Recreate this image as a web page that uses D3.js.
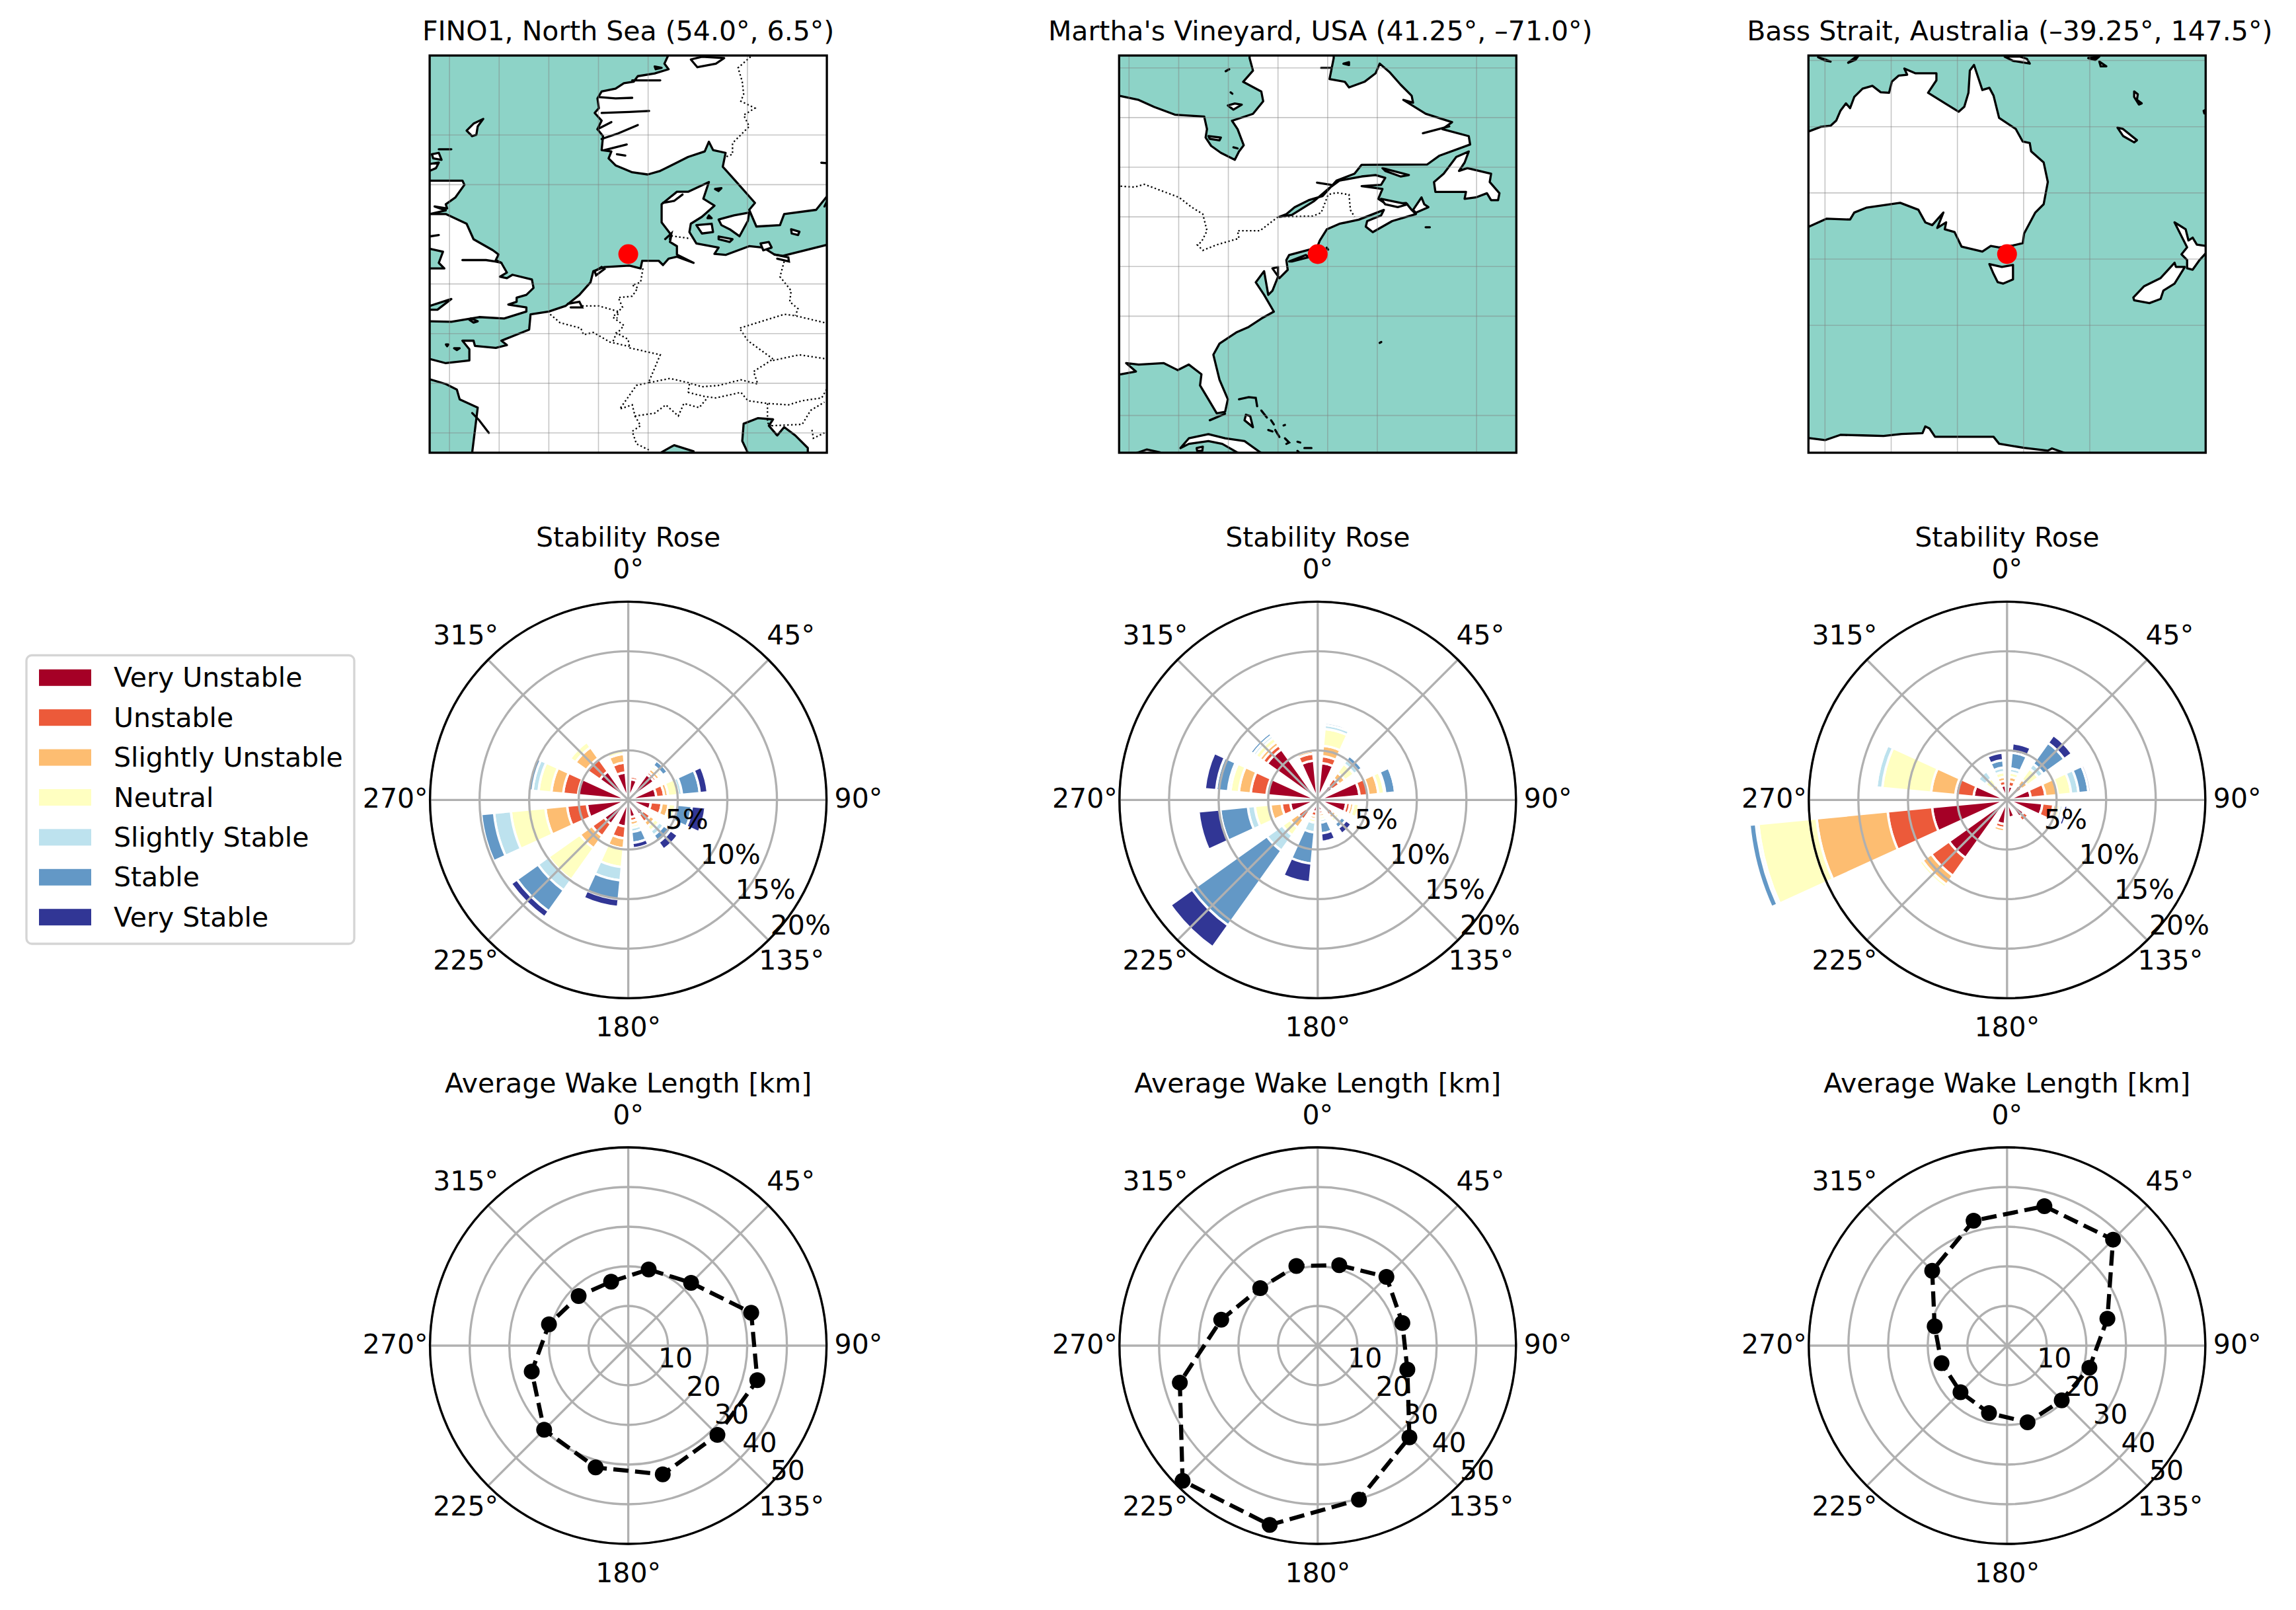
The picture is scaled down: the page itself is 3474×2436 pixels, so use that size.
<!DOCTYPE html>
<html>
<head>
<meta charset="utf-8">
<script src="https://cdn.jsdelivr.net/npm/d3@7"></script>
<style>
    html, body { margin: 0; padding: 0; background: #fff; }
    text { font-family: "DejaVu Sans", sans-serif; fill: #000; }
</style>
</head>
<body>
<div id="chart"></div>
<script>
// stability classes, same order as the stacking in the roses
const categories = ['Very Unstable', 'Unstable', 'Slightly Unstable', 'Neutral', 'Slightly Stable', 'Stable', 'Very Stable'];
const categoryColors = ['#a50026', '#ec5a3a', '#fdbd71', '#ffffc1', '#bde2ee', '#6398c6', '#313695'];

const sectorAngles = [15, 45, 75, 105, 135, 165, 195, 225, 255, 285, 315, 345];
const angleTicks = [0, 45, 90, 135, 180, 225, 270, 315];
const roseTicks = [5, 10, 15, 20];
const wakeTicks = [10, 20, 30, 40, 50];

const mapTitles = ['FINO1, North Sea (54.0°, 6.5°)', "Martha's Vineyard, USA (41.25°, –71.0°)", 'Bass Strait, Australia (–39.25°, 147.5°)'];

// one row per sector, one column per stability class (percent)
const roseFino = [
    [2.1, 0.3, 0.2, 0.05, 0, 0, 0],
    [3.2, 0.3, 0.4, 0.3, 0.1, 0.6, 0.05],
    [2.85, 0.8, 0.4, 1.0, 0.4, 1.8, 0.8],
    [2.3, 1.1, 0.7, 0.7, 0.1, 1.55, 1.37],
    [1.85, 0.9, 0.55, 0.55, 0.55, 0.85, 0.9],
    [1.75, 0.4, 0.4, 0.3, 0.4, 1.1, 0.55],
    [2.7, 1.2, 1.0, 1.9, 1.35, 1.9, 0.8],
    [3.0, 1.5, 1.5, 3.9, 1.3, 2.6, 0.75],
    [4.2, 2.0, 2.2, 3.5, 1.7, 1.3, 0],
    [5.1, 1.5, 1.2, 1.3, 0.6, 0.45, 0],
    [3.55, 1.65, 1.35, 0.65, 0, 0, 0],
    [2.8, 1.0, 0.87, 0.4, 0, 0, 0]
];
const roseVineyard = [
    [3.75, 0.7, 1.05, 1.7, 0.4, 0.25, 0.2],
    [1.8, 0.9, 0.7, 1.1, 0.5, 0.5, 0.03],
    [4.25, 0.9, 1.0, 0.6, 0.1, 1.0, 0.1],
    [2.9, 0.4, 0.35, 0.55, 0.2, 0.2, 0.1],
    [1.4, 0.5, 0.4, 0.4, 0.25, 0.55, 0.7],
    [1.1, 0.3, 0.3, 0.3, 0.3, 1.1, 0.85],
    [1.2, 0.45, 0.3, 0.35, 1.0, 3.15, 1.9],
    [1.45, 1.0, 1.0, 0.95, 1.9, 9.25, 2.7],
    [2.8, 0.87, 1.13, 1.58, 0.7, 2.8, 2.2],
    [5.2, 1.6, 1.2, 0.85, 0.25, 1.2, 1.15],
    [6.3, 0.5, 0.4, 0.5, 0.3, 0.35, 0.2],
    [4.0, 0.7, 0.3, 0.2, 0.15, 0.1, 0]
];
const roseBass = [
    [1.4, 0.5, 0.45, 0.45, 0.4, 1.6, 0.95],
    [1.2, 0.65, 0.7, 1.35, 0.6, 2.6, 0.95],
    [2.4, 1.5, 1.25, 1.35, 0.75, 1.0, 0.25],
    [3.6, 1.1, 0.3, 0.35, 0.3, 0.15, 0.35],
    [2.1, 0.55, 0.1, 0, 0, 0, 0],
    [1.8, 0.2, 0.2, 0, 0, 0, 0],
    [2.45, 0.4, 0.35, 0, 0, 0, 0],
    [7.2, 2.2, 1.1, 0.35, 0, 0, 0],
    [7.6, 4.5, 7.2, 5.9, 0.25, 0.65, 0],
    [3.4, 1.85, 2.45, 4.95, 0.6, 0.2, 0.03],
    [0.9, 0.5, 0.5, 0.8, 0.9, 0.2, 0.15],
    [1.5, 0.45, 0.4, 0.5, 0.45, 0.75, 0.75]
];

// average wake length per sector (km)
const wakeFino = [19.9, 22.4, 32.1, 33.7, 31.8, 33.6, 31.8, 30, 25.2, 20.7, 17.7, 16.7];
const wakeVineyard = [21, 24.5, 22.1, 23.4, 32.7, 40.2, 46.8, 48.2, 36, 25.2, 20.5, 20.8];
const wakeBass = [36.4, 37.8, 26.2, 21.5, 19.5, 20, 17.6, 16.6, 17.1, 18.9, 26.7, 32.6];

// site positions and the graticule the maps show
const sites = [[6.5, 54.0], [-71.0, 41.25], [147.5, -39.25]];
const mapHalfSpans = [10, 20, 30];
const finoLons = [-2.5, 0, 2.5, 5, 7.5, 12.5];
const finoLats = [45, 47.5, 50, 52.5, 57.5, 60];
const vineyardLons = [-90, -85, -80, -75, -70, -65, -55];
const vineyardLats = [25, 35, 40, 45, 50, 55, 60];
const bassLons = [120, 130, 140, 150, 160];
const bassLats = [-10, -20, -30, -40, -50];

// coastlines and borders as [lon, lat]
const finoLand = [
    // Norway and Sweden
    [[8.74,64.5],[8.32,63.59],[8.53,63.31],[7.83,63.1],[6.98,62.96],[6.77,62.68],[6.28,62.61],[5.86,62.33],[5.16,62.19],[4.95,61.84],[5.02,61.35],[4.81,61.11],[5.16,60.72],[4.95,60.29],[5.23,59.94],[5.16,59.24],[5.65,59.17],[5.51,58.82],[5.86,58.47],[6.7,58.12],[7.48,58.01],[8.11,58.19],[8.95,58.61],[9.51,58.89],[10.35,59.17],[10.56,59.66],[10.77,59.24],[11.4,59.1],[11.26,58.4],[11.89,57.7],[12.88,56.58],[12.59,56.23],[12.95,55.39],[14.14,55.46],[14.35,56.02],[15.96,56.23],[16.52,56.93],[17.5,56.93],[17.5,64.5]],
    // Britain
    [[-4,57.7],[-1.85,57.7],[-1.75,57.49],[-2.2,56.86],[-2.69,56.51],[-2.62,56.3],[-3.25,56.4],[-2.69,56.2],[-3.5,56.02],[-2.69,56.02],[-1.64,55.53],[-1.29,54.75],[-0.31,54.19],[-0.03,53.98],[-0.17,53.7],[0.11,53.56],[0.39,53.07],[0.04,52.86],[0.39,52.79],[0.67,52.96],[1.65,52.72],[1.73,52.3],[1.37,51.95],[0.88,51.81],[0.88,51.6],[0.46,51.46],[1.37,51.32],[1.37,51.11],[0.25,50.76],[-1.01,50.83],[-2.41,50.59],[-3.5,50.62],[-4,50.62],[-4,51.2],[-3.11,51.2],[-2.41,51.74],[-3.5,51.39],[-4,51.39],[-4,53.28],[-2.76,53.28],[-3.04,53.56],[-2.83,54.12],[-3.46,54.26],[-4,54.26]],
    [[-4,58.19],[-3.5,58.19],[-3.18,58.33],[-3.04,58.61],[-3.5,58.54],[-4,58.54]],
    // mainland Europe
    [[-1.85,49.64],[-1.29,49.64],[-1.22,49.38],[-0.17,49.28],[0.39,49.42],[0.11,49.64],[1.51,50.2],[1.58,50.97],[2.5,51.11],[3.34,51.39],[4.04,51.95],[4.6,52.58],[4.74,53.14],[5.3,53.35],[6.56,53.42],[7.12,53.28],[7.2,53.66],[8.04,53.66],[8.25,53.45],[8.53,53.77],[8.95,53.87],[9.79,53.56],[8.95,53.98],[8.95,54.4],[8.6,54.61],[8.67,54.96],[8.18,55.6],[8.18,56.51],[8.95,57.14],[9.51,57.14],[10.56,57.63],[10.28,56.79],[10.84,56.44],[10.21,55.88],[9.65,55.53],[9.58,55.11],[9.93,54.54],[11.05,54.33],[10.84,54.01],[11.4,53.96],[12.59,54.4],[13.3,54.33],[13.86,53.98],[14.28,53.91],[16.52,54.47],[17.5,54.47],[17.5,43.5],[15.54,43.5],[15.54,44.24],[14.91,44.87],[14.35,45.29],[14,44.87],[13.58,45.36],[13.79,45.68],[13.02,45.74],[12.31,45.46],[12.24,44.59],[12.52,44.0],[12.52,43.5],[9.79,43.5],[9.79,44.07],[8.81,44.38],[8.18,44.03],[8.18,43.5],[-1.36,43.5],[-1.36,44],[-1.08,46.27],[-1.99,46.69],[-2.13,47.18],[-2.69,47.46],[-3.5,47.7],[-4,47.7],[-4,48.72],[-3.5,48.72],[-2.69,48.51],[-1.5,48.65],[-1.5,49.21]],
    // islands
    [[11.05,55.74],[11.82,55.95],[12.59,56.09],[12.52,55.67],[12.1,54.9],[11.61,55.25],[11.19,55.46]],
    [[9.93,55.46],[10.7,55.53],[10.77,55.11],[10.21,55.04]],
    [[11.05,54.89],[11.75,54.75],[11.61,54.61],[11.05,54.75]],
    [[14.7,55.25],[15.12,55.13],[15.05,54.96],[14.73,55.04]],
    [[13.16,54.54],[13.58,54.61],[13.72,54.33],[13.3,54.19]],
    [[10.87,57.28],[11.19,57.32],[11.05,57.18]],
    [[10.56,55.95],[10.7,55.81],[10.49,55.81]],
    [[-1.64,60.22],[-1.29,60.57],[-0.8,60.81],[-1.08,60.43],[-1.15,60.01],[-1.36,59.94]],
    [[-3.39,59.03],[-3.04,59.1],[-2.9,58.75],[-3.32,58.82]],
    [[-1.43,50.76],[-1.08,50.62],[-1.29,50.55],[-1.5,50.69]],
    [[-2.68,49.45],[-2.56,49.45],[-2.62,49.36]],
    [[-2.27,49.26],[-1.99,49.26],[-2.13,49.17]],
    [[9.65,63.8],[10.21,63.94],[11.33,63.87],[10.91,63.59],[9.98,63.41]],
    [[7.83,63.45],[8.18,63.38],[7.88,63.31]]
];
const finoLines = [
    [[5.02,61.91],[5.86,61.84],[6.7,61.87]],
    [[5.16,61.11],[6.56,61.16],[7.55,61.21]],
    [[5.16,59.8],[6.0,60.08],[6.98,60.5]],
    [[5.3,59.24],[6.42,59.52]],
    [[4.95,60.29],[5.65,60.65]],
    [[5.93,59.03],[6.35,58.96]],
    [[6.7,62.75],[8.11,62.75]],
    [[-1.85,53.7],[-0.66,53.7],[-0.2,53.63],[0.11,53.56]],
    [[-3.5,54.89],[-3.04,54.96]],
    [[-3.04,59.28],[-2.41,59.28]],
    [[-1.36,46.0],[-1.01,45.64],[-0.52,45.0]],
    [[8.25,56.58],[8.81,56.68],[9.23,57.0]],
    [[4.81,53.14],[5.16,53.35],[5.3,53.25],[4.88,52.93],[4.81,53.14]],
    [[3.46,51.5],[4.04,51.6],[4.18,51.32],[3.6,51.32]],
    [[13.86,53.98],[14.56,53.84],[14.59,53.63],[14,53.77]],
    [[8.36,54.76],[8.67,55.04],[8.6,54.76]],
    [[16.38,56.4],[16.52,56.7]],
    [[16.22,58.6],[16.52,58.58]]
];
const finoBorders = [
    [[12.66,63.94],[12.03,63.38],[12.24,62.68],[12.31,62.05],[12.17,61.7],[12.88,61.35],[12.31,61.0],[12.59,60.43],[11.75,59.59],[11.75,59.03],[11.4,58.89]],
    [[8.67,54.92],[9.65,54.78]],
    [[7.24,53.28],[7.12,52.58],[6.7,52.44],[6.98,52.3],[6.7,51.88],[6,51.81],[6.21,51.32],[5.72,50.83],[6.28,50.41],[5.86,49.92],[5.72,49.57]],
    [[4.18,51.39],[5.02,51.39],[6,51.11],[5.93,50.76]],
    [[2.57,50.97],[3.06,50.55],[4.11,50.27],[4.25,49.94],[4.74,50.06],[5.58,49.57],[6.56,49.35]],
    [[5.86,50.06],[6.49,49.71],[6.56,49.35]],
    [[6.56,49.28],[8.11,48.93],[7.55,47.6]],
    [[7.55,47.53],[6.91,47.39],[6.07,46.2],[6.7,46.41],[6.84,45.85],[7.83,45.99],[8.39,46.41],[9.02,45.85],[9.3,46.48],[10.07,46.27],[10.42,46.69]],
    [[6.84,45.85],[7.12,45.36],[6.7,45.08],[6.91,44.45],[7.62,44.1]],
    [[7.55,47.53],[8.6,47.74],[9.51,47.53],[10.21,47.32],[11.05,47.39],[12.17,47.67],[13.02,47.46],[12.81,48.09],[13.58,48.58],[13.79,48.72]],
    [[13.79,48.72],[12.52,49.64],[12.1,50.27],[14.35,50.97],[14.91,50.9],[16.38,50.55]],
    [[14.35,53.63],[14.14,52.86],[14.7,52.16],[14.63,51.6],[15.05,51.25],[14.91,50.9]],
    [[9.51,47.04],[10.35,46.83],[10.91,46.76],[12.17,47.04],[12.52,46.62],[13.51,46.48],[14.56,46.41],[15.26,46.62],[16.24,46.76],[16.52,47.25]],
    [[9.58,47.46],[9.51,47.04]],
    [[13.51,46.48],[13.51,45.5],[13.72,45.36]],
    [[13.72,45.36],[15.26,45.43],[15.68,46.13],[16.38,46.55]],
    [[13.79,48.65],[15.12,48.93],[16.52,48.72]],
    [[15.75,45.15],[15.82,44.73],[16.38,45.0]]
];

const vineyardLand = [
    // North America
    [[-92,57.2],[-91,57.2],[-89.03,56.78],[-87.48,56.08],[-85.38,55.29],[-82.43,55.1],[-82.15,53.84],[-82.29,52.99],[-81.73,52.15],[-80.75,51.45],[-79.35,50.75],[-78.93,51.59],[-78.45,52.21],[-79.07,53.84],[-79.63,54.68],[-77.52,55.38],[-76.49,56.64],[-76.68,57.62],[-78.51,58.6],[-77.52,59.73],[-77.86,60.99],[-77.86,62],[-69.39,62],[-69.39,60.99],[-69.81,58.88],[-68.27,58.6],[-67.85,58.04],[-66.3,58.6],[-65.18,59.45],[-64.76,60.43],[-63.78,59.59],[-62.66,58.32],[-61.54,57.2],[-61.4,56.5],[-62.38,56.78],[-60.13,55.38],[-57.47,54.54],[-58.45,53.84],[-55.79,53.13],[-55.65,52.29],[-58.73,51.17],[-59.99,50.27],[-66.58,50.25],[-67.29,49.35],[-69.11,48.65],[-70.51,47.1],[-71.91,46.68],[-73.32,45.98],[-74.16,45.28],[-74.86,45],[-73.6,45.2],[-71.35,46.6],[-69.95,47.81],[-68.83,48.65],[-66.58,49.07],[-65.18,49.21],[-64.2,48.93],[-64.62,48.23],[-66.58,48.09],[-64.48,47.81],[-64.9,46.82],[-64.06,46.26],[-62.1,46.4],[-61.54,45.7],[-61.11,45.28],[-63.5,44.58],[-65.46,43.46],[-66.16,44.02],[-66.02,44.58],[-64.62,45.14],[-64.34,45.7],[-66.87,44.72],[-68.83,44.3],[-70.09,43.74],[-70.79,42.62],[-71.07,41.91],[-73.88,41.16],[-74.16,40.65],[-74.02,39.67],[-74.86,38.83],[-75.56,39.81],[-75,39.95],[-75,38.97],[-75.56,37.57],[-75.98,37.15],[-76.4,39.53],[-77.24,38.41],[-76.4,37.15],[-75.42,35.46],[-76.68,34.76],[-77.95,33.92],[-79.21,33.36],[-80.89,32.24],[-81.51,31.12],[-80.89,28.59],[-80.05,26.63],[-80.33,25.36],[-81.17,25.22],[-82.01,26.63],[-82.85,28.03],[-82.71,29.15],[-83.98,30.13],[-85.1,29.57],[-86.5,30.27],[-89.03,30.13],[-90.29,30.27],[-89.31,29.43],[-90.85,29.15],[-92,29.15]],
    // islands
    [[-73.88,40.51],[-72.19,41.16],[-71.91,40.94],[-73.6,40.51]],
    [[-59.29,48.51],[-58.31,49.35],[-57.05,51.03],[-55.79,51.59],[-56.21,50.47],[-56.77,49.63],[-55.93,49.91],[-53.54,49.35],[-53.68,48.51],[-52.7,47.38],[-52.84,46.68],[-53.54,46.68],[-53.96,47.38],[-55.08,46.96],[-56.21,46.82],[-56.07,47.52],[-59.15,47.52]],
    [[-64.48,49.91],[-61.82,49.21],[-62.66,49.07],[-64.2,49.63]],
    [[-64.62,46.82],[-61.96,46.26],[-62.94,45.98],[-64.2,46.26]],
    [[-61.4,45.7],[-60.55,46.96],[-60.27,46.26],[-59.85,45.98],[-61.11,45.42]],
    [[-82.01,53.13],[-80.75,52.99],[-80.89,52.71],[-81.87,52.85]],
    [[-68.41,60.43],[-67.85,60.57],[-67.85,60.29]],
    [[-84.82,21.72],[-83.98,22.7],[-82.01,23.12],[-80.33,22.7],[-78.37,22.42],[-76.68,21.21],[-78.65,21.02],[-80.61,22.14],[-82.01,22.42],[-83.98,22.14]],
    [[-83.19,21.72],[-82.57,21.86],[-82.62,21.44],[-83.14,21.44]],
    [[-89.87,21],[-88.2,21.58],[-86.9,21.3],[-86.9,21]],
    [[-78.23,25.08],[-77.8,24.94],[-77.52,23.82],[-78.37,24.52]],
    [[-80.05,56.22],[-79.35,56.42],[-78.65,56.3],[-79.49,55.8]]
];
const vineyardLines = [
    [[-60.41,53.42],[-57.75,54.12]],
    [[-71.07,48.45],[-69.67,48.23]],
    [[-79.77,57.54],[-79.6,57.4]],
    [[-80.27,59.67],[-79.91,59.87]],
    [[-79.49,52.01],[-79.07,51.9]],
    [[-70.65,60.01],[-69.67,60.01]],
    [[-81.87,24.52],[-80.33,25.17]],
    [[-78.93,26.63],[-77.95,26.85],[-77.24,26.77],[-77.1,25.93]],
    [[-76.68,25.5],[-76.12,24.8]],
    [[-75.7,24.52],[-75.42,24.1]],
    [[-75.98,23.54],[-75.56,23.4]],
    [[-75.28,23.54],[-74.86,22.84]],
    [[-74.3,22.7],[-73.88,22.28],[-74.16,22.14]],
    [[-73.04,22.36],[-72.76,22.28]],
    [[-72.34,21.72],[-71.63,21.72]],
    [[-74.44,24],[-74.3,24.05]],
    [[-73.04,21.44],[-72.9,21.3]],
    [[-60.13,43.96],[-59.71,43.96]],
    [[-64.76,32.32],[-64.6,32.4]],
    [[-70.1,41.9],[-69.95,41.7]]
];
const vineyardBorders = [
    [[-90.85,48.09],[-89.45,48],[-88.46,48.28],[-84.96,46.96],[-83.7,45.98],[-82.57,45.28],[-82.15,43.6],[-82.71,42.48],[-83.13,42.19],[-82.57,41.63],[-81.17,42.19],[-78.93,42.84],[-79.07,43.6],[-76.82,43.6],[-75,45],[-71.49,45.08],[-70.65,45.42],[-69.95,47.24],[-69.11,47.44],[-67.85,47.24],[-67.71,45.7],[-67.29,45]]
];

const bassLand = [
    // Australia
    [[117,-20.69],[117.61,-20.69],[119.37,-20.02],[120.85,-19.85],[121.69,-19.09],[122.32,-17.62],[123.16,-16.48],[123.79,-17.2],[124.42,-15.51],[125.68,-14.25],[127.16,-13.83],[128.42,-14.8],[129.68,-14.88],[130.1,-13.2],[131.15,-12.28],[132.41,-12.15],[131.99,-11.22],[133.68,-11.94],[136.83,-11.94],[136.83,-12.99],[135.57,-14.88],[138.3,-16.57],[140.2,-17.74],[141.04,-16.99],[141.67,-14.88],[141.88,-11.52],[142.51,-10.68],[143.77,-14.46],[144.83,-14.13],[145.46,-15.3],[146.3,-18.67],[148.82,-20.35],[149.87,-22.25],[150.93,-22.46],[151.14,-23.72],[153.03,-25.4],[153.66,-28.35],[153.03,-31.71],[151.77,-32.97],[150.08,-36.13],[149.87,-37.6],[148.4,-37.94],[146.3,-38.23],[145.04,-38.02],[143.77,-38.86],[140.62,-38.11],[139.57,-35.92],[138.09,-35.5],[138.3,-34.45],[136.96,-35.29],[137.88,-32.97],[136.2,-34.87],[135.15,-34.45],[134.1,-32.55],[131.36,-31.5],[126.31,-32.22],[124.42,-32.97],[123.79,-34.03],[120.21,-33.9],[117.61,-35.08],[117,-35.08]],
    // Tasmania
    [[144.83,-40.76],[146.72,-41.18],[148.4,-40.88],[148.4,-43.07],[146.93,-43.7],[146.09,-43.49],[145.46,-42.23]],
    // New Zealand
    [[166.58,-45.81],[168.17,-44.12],[170.7,-42.86],[172.8,-40.55],[173.01,-41.18],[174.36,-41.18],[172.8,-43.7],[171.12,-44.75],[170.7,-46.02],[169.01,-46.65],[166.7,-46.23]],
    [[172.8,-34.45],[174.48,-35.5],[174.9,-37.18],[175.54,-36.76],[176.17,-37.81],[177.56,-38.02],[178.5,-38.02],[178.5,-39.07],[177.56,-39.07],[176.59,-40.13],[175.54,-41.6],[174.7,-41.39],[174.7,-40.13],[173.85,-39.28],[174.7,-38.23]],
    // Pacific and Indonesia
    [[164.18,-20.14],[165.02,-20.35],[167.12,-22.04],[166.7,-22.37],[165.02,-21.4]],
    [[166.7,-14.67],[167.25,-15.1],[167.12,-15.94],[167.84,-16.48],[167.42,-16.65],[166.7,-15.51]],
    [[177.2,-17.6],[177.6,-17.4],[177.6,-18],[177.3,-18]],
    [[118.95,-9.5],[120,-9.84],[120.85,-10.17],[120,-10]],
    [[123.5,-10.34],[125.26,-9],[124.6,-9.9]],
    [[147.14,-9.42],[148.4,-10.05],[150.93,-10.47],[150.5,-9.75],[149.45,-9.42]],
    [[159.76,-9.63],[160.81,-9.92],[161.44,-9.4]],
    [[161.44,-10.17],[162.5,-10.89],[161.65,-10.89]],
    // Antarctica
    [[117,-67.05],[117.61,-67.05],[120,-67.35],[122.32,-66.55],[125.68,-66.63],[128.84,-66.71],[131.57,-66.42],[134.73,-66.29],[135.15,-65.28],[135.78,-65.58],[136.62,-66.84],[145.46,-66.84],[146.3,-67.89],[150.08,-68.52],[153.66,-68.94],[154.29,-68.6],[156.18,-69.28],[156.18,-70],[117,-70]]
];
const bassLines = [];
const bassBorders = [];

const siteMaps = [
    { land: finoLand, lines: finoLines, borders: finoBorders, lons: finoLons, lats: finoLats },
    { land: vineyardLand, lines: vineyardLines, borders: vineyardBorders, lons: vineyardLons, lats: vineyardLats },
    { land: bassLand, lines: bassLines, borders: bassBorders, lons: bassLons, lats: bassLats }
];
const roses = [roseFino, roseVineyard, roseBass];
const wakes = [wakeFino, wakeVineyard, wakeBass];

const width = 3474, height = 2436;
const fontSize = 41;
const columns = [950.6, 1993.8, 3036.8];
const titleShift = [0, 4, 4];
const mapTop = 84, mapSize = 601;
const roseY = 1210.4, wakeY = 2036, polarR = 300;
const sectorWidth = 19 * Math.PI / 180;
const rad = d => d * Math.PI / 180;

const svg = d3.select('#chart')
    .append('svg')
    .attr('width', width)
    .attr('height', height)
    .style('display', 'block');

svg.append('rect').attr('width', width).attr('height', height).attr('fill', '#fff');

function drawMap(i) {
    const cx = columns[i];
    const site = sites[i], span = mapHalfSpans[i], m = siteMaps[i];
    const left = cx - mapSize / 2;

    const x = d3.scaleLinear().domain([site[0] - span, site[0] + span]).range([left, left + mapSize]);
    const y = d3.scaleLinear().domain([site[1] + span, site[1] - span]).range([mapTop, mapTop + mapSize]);
    const path = d3.line().x(d => x(d[0])).y(d => y(d[1]));

    svg.append('clipPath').attr('id', 'map' + i)
        .append('rect')
        .attr('x', left).attr('y', mapTop)
        .attr('width', mapSize).attr('height', mapSize);

    const g = svg.append('g').attr('clip-path', 'url(#map' + i + ')');

    g.append('rect')
        .attr('x', left).attr('y', mapTop)
        .attr('width', mapSize).attr('height', mapSize)
        .attr('fill', '#8dd3c7');

    g.selectAll('.land')
        .data(m.land)
        .enter()
        .append('path')
        .attr('class', 'land')
        .attr('d', d => path(d) + 'Z')
        .attr('fill', '#fff')
        .attr('stroke', '#000')
        .attr('stroke-width', 3.3)
        .attr('stroke-linejoin', 'round');

    g.selectAll('.coastline')
        .data(m.lines)
        .enter()
        .append('path')
        .attr('class', 'coastline')
        .attr('d', d => path(d))
        .attr('fill', 'none')
        .attr('stroke', '#000')
        .attr('stroke-width', 3.3)
        .attr('stroke-linecap', 'round');

    g.selectAll('.border')
        .data(m.borders)
        .enter()
        .append('path')
        .attr('class', 'border')
        .attr('d', d => path(d))
        .attr('fill', 'none')
        .attr('stroke', '#000')
        .attr('stroke-width', 2.3)
        .attr('stroke-dasharray', '2.3 3.6');

    g.selectAll('.lon')
        .data(m.lons)
        .enter()
        .append('line')
        .attr('x1', d => x(d)).attr('x2', d => x(d))
        .attr('y1', mapTop).attr('y2', mapTop + mapSize)
        .attr('stroke', 'gray').attr('stroke-opacity', 0.45).attr('stroke-width', 1.6);

    g.selectAll('.lat')
        .data(m.lats)
        .enter()
        .append('line')
        .attr('x1', left).attr('x2', left + mapSize)
        .attr('y1', d => y(d)).attr('y2', d => y(d))
        .attr('stroke', 'gray').attr('stroke-opacity', 0.45).attr('stroke-width', 1.6);

    g.append('circle')
        .attr('cx', x(site[0])).attr('cy', y(site[1]))
        .attr('r', 15)
        .attr('fill', '#ff0000');

    svg.append('rect')
        .attr('x', left).attr('y', mapTop)
        .attr('width', mapSize).attr('height', mapSize)
        .attr('fill', 'none')
        .attr('stroke', '#000')
        .attr('stroke-width', 3.33);

    svg.append('text')
        .attr('x', cx + titleShift[i]).attr('y', 61)
        .attr('text-anchor', 'middle')
        .attr('font-size', fontSize)
        .text(mapTitles[i]);
}

function polarFrame(g, r, ticks, rMax) {
    g.selectAll('.ring')
        .data(ticks)
        .enter()
        .append('circle')
        .attr('r', d => r(d))
        .attr('fill', 'none')
        .attr('stroke', '#b0b0b0')
        .attr('stroke-width', 3.33);

    g.selectAll('.spoke')
        .data(angleTicks)
        .enter()
        .append('line')
        .attr('x2', d => r(rMax) * Math.sin(rad(d)))
        .attr('y2', d => -r(rMax) * Math.cos(rad(d)))
        .attr('stroke', '#b0b0b0')
        .attr('stroke-width', 3.33);

    g.append('circle')
        .attr('r', r(rMax))
        .attr('fill', 'none')
        .attr('stroke', '#000')
        .attr('stroke-width', 3.33);
}

function polarLabels(g, r, ticks, suffix, title) {
    // offsets worked out against the 3474 wide picture
    const place = {
        0: [0, -335, 'middle'], 45: [246, -235, 'middle'], 90: [312, 12, 'start'],
        135: [247, 257, 'middle'], 180: [0, 358, 'middle'], 225: [-246, 257, 'middle'],
        270: [-303, 12, 'end'], 315: [-246, -235, 'middle']
    };
    g.selectAll('.angle')
        .data(angleTicks)
        .enter()
        .append('text')
        .attr('x', d => place[d][0])
        .attr('y', d => place[d][1])
        .attr('text-anchor', d => place[d][2])
        .attr('font-size', fontSize)
        .text(d => d + '°');

    g.selectAll('.rlabel')
        .data(ticks)
        .enter()
        .append('text')
        .attr('x', d => r(d) * Math.SQRT1_2 + 3)
        .attr('y', d => r(d) * Math.SQRT1_2 - 9)
        .attr('font-size', fontSize)
        .text(d => d + suffix);

    g.append('text')
        .attr('y', -383)
        .attr('text-anchor', 'middle')
        .attr('font-size', fontSize)
        .text(title);
}

function drawRose(i) {
    const g = svg.append('g').attr('transform', 'translate(' + columns[i] + ',' + roseY + ')');
    const r = d3.scaleLinear().domain([0, 20]).range([0, polarR]);
    const arc = d3.arc();

    const bars = [];
    sectorAngles.forEach(function(angle, s) {
        let base = 0;
        roses[i][s].forEach(function(value, c) {
            if (value > 0) {
                bars.push({ angle: angle, from: base, to: base + value, cat: c });
            }
            base += value;
        });
    });

    g.selectAll('.bar')
        .data(d3.sort(bars, d => d.cat))
        .enter()
        .append('path')
        .attr('class', 'bar')
        .attr('d', d => arc({
            innerRadius: r(d.from),
            outerRadius: r(d.to),
            startAngle: rad(d.angle) - sectorWidth / 2,
            endAngle: rad(d.angle) + sectorWidth / 2
        }))
        .attr('fill', d => categoryColors[d.cat])
        .attr('stroke', '#fff')
        .attr('stroke-width', 3.6);

    polarFrame(g, r, roseTicks, 20);
    polarLabels(g, r, roseTicks, '%', 'Stability Rose');
}

function drawWake(i) {
    const g = svg.append('g').attr('transform', 'translate(' + columns[i] + ',' + wakeY + ')');
    const r = d3.scaleLinear().domain([0, 50]).range([0, polarR]);

    polarFrame(g, r, wakeTicks, 50);

    const line = d3.lineRadial()
        .angle((d, k) => rad(sectorAngles[k]))
        .radius(d => r(d))
        .curve(d3.curveLinearClosed);

    g.append('path')
        .attr('d', line(wakes[i]))
        .attr('fill', 'none')
        .attr('stroke', '#000')
        .attr('stroke-width', 6.25)
        .attr('stroke-dasharray', '23 10');

    g.selectAll('.point')
        .data(wakes[i])
        .enter()
        .append('circle')
        .attr('cx', (d, k) => r(d) * Math.sin(rad(sectorAngles[k])))
        .attr('cy', (d, k) => -r(d) * Math.cos(rad(sectorAngles[k])))
        .attr('r', 12)
        .attr('fill', '#000');

    polarLabels(g, r, wakeTicks, '', 'Average Wake Length [km]');
}

function drawLegend() {
    svg.append('rect')
        .attr('x', 40).attr('y', 991.5)
        .attr('width', 496).attr('height', 436.5)
        .attr('rx', 8)
        .attr('fill', '#fff')
        .attr('stroke', '#d5d5d5')
        .attr('stroke-width', 3.33);

    const row = d3.scalePoint().domain(categories).range([1025.3, 1387.7]);

    svg.selectAll('.swatch')
        .data(categories)
        .enter()
        .append('rect')
        .attr('x', 59).attr('y', d => row(d) - 12.5)
        .attr('width', 79).attr('height', 25)
        .attr('fill', (d, i) => categoryColors[i]);

    svg.selectAll('.legend-label')
        .data(categories)
        .enter()
        .append('text')
        .attr('x', 172).attr('y', d => row(d) + 14)
        .attr('font-size', fontSize)
        .text(d => d);
}

for (let i = 0; i < 3; i++) {
    drawMap(i);
    drawRose(i);
    drawWake(i);
}
drawLegend();
</script>
</body>
</html>
